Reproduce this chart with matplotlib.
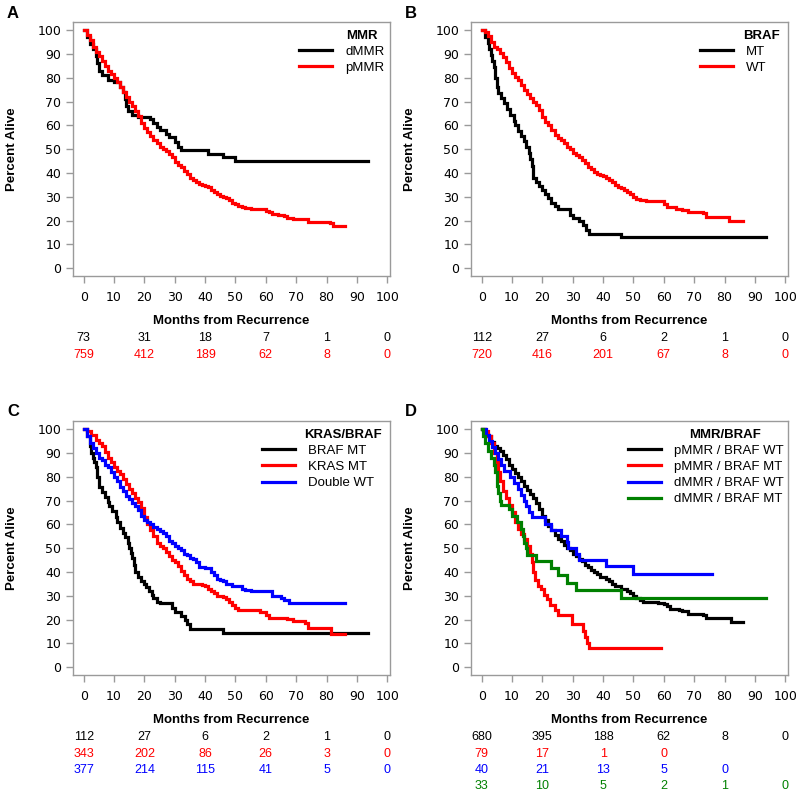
import matplotlib
matplotlib.use('Agg')
import matplotlib.pyplot as plt
import matplotlib.transforms as mtransforms

# Kaplan-Meier steps: (month, percent alive)
a_dmmr = [(0, 100), (1, 97), (2, 94), (3, 92), (4, 89), (4.5, 86), (5, 83), (6, 81), (8, 79),
          (10, 78), (12, 76), (13, 74), (13.5, 71), (14, 68), (14.5, 66), (16, 64.5), (18, 63.5),
          (22, 62.5), (23, 61), (24, 59.5), (25, 58), (27, 56.5), (28, 55), (30, 53), (31, 51),
          (32, 49.5), (41, 48), (46, 46.5), (50, 45), (93.5, 45)]
a_pmmr = [(0, 100), (1, 98), (2, 96), (3, 93), (4, 91), (5, 89), (6, 87), (7, 85), (8, 83),
          (9, 81.5), (10, 80), (11, 78), (12, 76), (13, 74), (14, 72), (15, 70), (16, 68),
          (17, 66), (18, 64), (19, 61), (20, 59), (21, 57), (22, 55.5), (23, 54), (24, 52.5),
          (25, 51), (26, 50), (27, 49), (28, 48), (29, 46.5), (30, 44.5), (31, 43.5), (32, 42.5),
          (33, 41), (34, 39.5), (35, 38), (36, 37), (37, 36), (38, 35.5), (39, 35), (40, 34.5),
          (41, 34), (42, 33), (43, 32), (44, 31), (45, 30.5), (46, 30), (47, 29.5), (48, 28.5),
          (49, 27.5), (50, 27), (51, 26), (52, 25.5), (53, 25.2), (55, 25), (58, 24.8), (60, 24.2),
          (61, 23.5), (62, 22.8), (64, 22.3), (66, 21.8), (67, 21.2), (69, 20.7), (73, 20.5),
          (74, 19.2), (81, 19), (82, 17.5), (86, 17.5)]

b_mt = [(0, 100), (1, 97), (2, 94.5), (2.5, 92), (3, 89.5), (3.5, 87), (4, 84.5), (4.5, 80),
        (5, 76), (5.5, 73.5), (6.5, 71.5), (7.5, 69.5), (8.5, 67), (9.5, 64.5), (10.5, 62),
        (11, 60), (12, 57.5), (13, 55.5), (14, 53.5), (14.5, 51), (15.5, 48.5), (16, 46),
        (16.5, 43), (17, 38), (18, 36), (19, 34.5), (20, 33), (21, 31), (22, 29.5), (23, 27.5),
        (24, 26), (25, 24.8), (29, 22.5), (30, 21), (32, 20), (33.5, 18), (34.5, 16),
        (35.5, 14.5), (46, 13), (93.5, 13)]
b_wt = [(0, 100), (1, 99), (2, 97.5), (3, 95), (4, 93), (5, 92), (6, 90.5), (7, 88.5),
        (8, 86.5), (9, 84), (10, 82), (11, 80.5), (12, 79), (13, 77), (14, 75), (15, 73),
        (16, 71.5), (17, 70), (18, 68.5), (19, 66.5), (20, 63.5), (21, 61.5), (22, 60), (23, 58),
        (24, 56), (25, 54.5), (26, 54), (27, 52.5), (28, 51), (29, 50), (30, 48.5), (31, 47.5),
        (32, 46.5), (33, 45.5), (34, 44), (35, 42.5), (36, 41.5), (37, 40.5), (38, 39.5),
        (39, 39), (40, 38.5), (41, 38), (42, 37), (43, 36), (44, 35), (45, 34), (46, 33.5),
        (47, 33), (48, 32), (49, 31), (50, 30), (51, 29), (52, 28.5), (54, 28.2), (58, 28),
        (60, 27), (61, 25.5), (64, 25), (66, 24.3), (68, 23.5), (73, 23), (74, 21.5),
        (81.5, 20), (86, 20)]

c_braf = [(0, 100), (1, 97), (2, 93), (2.5, 90), (3, 88), (3.5, 86), (4, 84), (4.5, 80),
          (5, 75.5), (6, 73.5), (7, 71.5), (8, 69.5), (8.5, 67.5), (9.5, 65.5), (10.5, 63),
          (11, 61), (12, 58.5), (13, 56.5), (13.5, 54.5), (14.5, 52), (15, 50), (15.5, 48),
          (16, 46), (16.5, 43), (17, 40), (18, 38), (19, 36), (20, 35), (20.5, 33.5), (21.5, 32),
          (22.5, 30.5), (23, 29), (24, 27.5), (25, 27), (29, 25), (30, 23), (32, 21.5),
          (33.5, 20), (34, 18), (35, 16), (46, 14.5), (93.5, 14.5)]
c_kras = [(0, 100), (1, 99), (2.5, 97.5), (4, 95.5), (5, 94), (6, 93), (7, 90.5), (8, 88),
          (9, 86), (10, 84), (11, 82.5), (12, 81), (13, 79), (14, 77), (15, 75), (16, 73),
          (17, 71), (18, 69.5), (19, 67), (20, 63), (21, 60), (22, 57.5), (23, 55), (24, 52),
          (25, 51), (26, 50), (27, 48.5), (28, 46.5), (29, 45), (30, 44), (31, 42.5), (32, 40.5),
          (33, 38.5), (34, 37), (35, 36), (36, 35), (39, 34.5), (40, 34), (41, 33), (42, 32),
          (43, 31), (44, 30), (46, 29.5), (47, 28.5), (48, 27.5), (49, 26), (50, 25), (51, 24),
          (56, 23.8), (58, 23), (60, 22), (61, 20.7), (67, 20.2), (69, 19.5), (73, 18.5),
          (74, 16.5), (81.5, 14), (86, 14)]
c_dwt = [(0, 100), (1, 97), (2, 94), (3, 92), (4, 90), (5, 88), (6, 87), (7, 85), (8, 84),
         (9, 82), (10, 80), (11, 78), (12, 75.5), (13, 74), (14, 72), (15, 70.5), (16, 69),
         (17, 67.5), (18, 66), (19, 63.5), (20, 62), (21, 61), (22, 60), (23, 59), (24, 58),
         (25, 57), (26, 56.5), (27, 55), (28, 53), (29, 52), (30, 51), (31, 50), (32, 49),
         (33, 47.5), (34, 47), (35, 46), (36, 45.5), (37, 44), (38, 42), (40, 41.5), (42, 40),
         (43, 38.5), (44, 37), (45, 36.5), (46, 36), (47, 35), (49, 34), (52, 33), (53, 32.5),
         (55, 32), (61, 31.8), (62, 30), (65, 29), (66, 28), (67.5, 27), (86, 27)]

d_p_wt = [(0, 100), (1, 98), (2, 97), (3, 94.5), (4, 93), (5, 92), (6, 91), (7, 89), (8, 87.5),
          (9, 85), (10, 83.3), (11, 81.5), (12, 79.8), (13, 78), (14, 76), (15, 74.5),
          (16, 72.8), (17, 71), (18, 69), (19, 66.5), (20, 63.5), (21, 62), (22, 59.5),
          (23, 57.5), (24, 55.5), (25, 54), (26, 53), (27, 51.5), (28, 50), (29, 49), (30, 47.5),
          (31, 46.5), (32, 45.5), (33, 44.5), (34, 43), (35, 42), (36, 41), (37, 40), (38, 39),
          (39, 38), (41, 37), (42, 36), (43, 35), (44, 34), (46, 33), (48, 32), (49, 31),
          (50, 30), (51, 29), (52, 28), (53, 27.5), (58, 27), (60, 26.5), (61, 25.5), (62, 24.5),
          (65, 24), (66, 23.5), (68, 22.5), (73, 22), (74, 20.7), (81, 20.5), (82, 19), (86, 19)]
d_p_mt = [(0, 100), (1, 99), (2, 97), (3, 94), (4, 90), (5, 86), (5.5, 82), (6, 78), (7, 74),
          (8, 71), (9, 68), (10, 65), (11, 61), (12, 58), (13, 56), (14, 54), (15, 51),
          (16, 47.5), (16.5, 44), (17, 40), (17.5, 36.5), (18.5, 34), (19.5, 33), (20.5, 30.5),
          (21.5, 28.5), (22.5, 26), (24, 24), (25, 22), (29.7, 18), (33.3, 15), (34, 12.5),
          (34.8, 10), (35.5, 8), (59, 8)]
d_d_wt = [(0, 100), (1.5, 97.5), (2.5, 95), (3.5, 92.5), (4.5, 90), (5.5, 87.5), (6.5, 85),
          (7.5, 82.5), (9.5, 80), (10.5, 77.5), (12, 75), (13, 72.5), (14, 70), (14.5, 67.5),
          (15.5, 65), (16.5, 63), (21, 60), (23, 57.5), (26, 55), (28, 52.5), (28.5, 50),
          (31, 47.5), (32, 45), (41, 42.5), (50, 39), (76, 39)]
d_d_mt = [(0, 100), (0.5, 97), (1, 94), (2, 91), (3, 88), (4, 85), (4.5, 82), (5, 76),
          (5.5, 73), (6, 70), (6.5, 68), (9, 66.5), (10, 63.5), (11.5, 61), (13, 58), (13.5, 55),
          (14, 52), (14.5, 50), (15, 47), (18, 44.5), (23, 41.5), (25, 38.5), (28, 35.5),
          (31, 32.5), (46, 29), (93.5, 29)]

# numbers at risk at 0, 20, 40, 60, 80, 100 months
risk_months = [0, 20, 40, 60, 80, 100]
a_risk = [[73, 31, 18, 7, 1, 0], [759, 412, 189, 62, 8, 0]]
b_risk = [[112, 27, 6, 2, 1, 0], [720, 416, 201, 67, 8, 0]]
c_risk = [[112, 27, 6, 2, 1, 0], [343, 202, 86, 26, 3, 0], [377, 214, 115, 41, 5, 0]]
d_risk = [[680, 395, 188, 62, 8, 0], [79, 17, 1, 0], [40, 21, 13, 5, 0], [33, 10, 5, 2, 1, 0]]

RED = '#ff0000'
BLUE = '#0000ff'
GREEN = '#008000'
GRAY = '#9a9a9a'
SANS = ['Liberation Sans', 'DejaVu Sans']

fig = plt.figure(figsize=(8, 7.95), dpi=100)
W, H = 800, 795


def panel(left, top, letter, title, labels, colors, curves, risk, leg_x, title_x):
    # left/top in pixels of the frame
    ax = fig.add_axes([left / W, 1 - (top + 254) / H, 317 / W, 254 / H])
    lines = []
    for pts, c in zip(curves, colors):
        t, s = zip(*pts)
        ln, = ax.step(t, s, where='post', color=c, lw=2.3, solid_joinstyle='miter')
        lines.append(ln)
    ax.set_xlim(-3.5, 100.9)
    ax.set_ylim(-3.3, 103.4)
    ax.set_xticks(range(0, 101, 10))
    ax.set_yticks(range(0, 101, 10))
    for sp in ax.spines.values():
        sp.set_color(GRAY)
        sp.set_linewidth(1)
    ax.tick_params(direction='out', length=5, width=1, color=GRAY, pad=3.5,
                   labelsize=9, labelcolor='black')
    ax.tick_params(axis='x', pad=5.5)
    ax.set_ylabel('Percent Alive', fontsize=9.5, fontweight='bold', family=SANS)
    ax.yaxis.set_label_coords(-0.192, 0.5)
    ax.yaxis.label.set_va('center')
    ax.set_xlabel('Months from Recurrence', fontsize=9.5, fontweight='bold', family=SANS)
    ax.xaxis.set_label_coords(0.5, -0.177)
    ax.xaxis.label.set_va('center')

    ax.legend(lines, labels, loc='upper left', bbox_to_anchor=(leg_x, 0.907), frameon=False,
              borderpad=0, borderaxespad=0, handlelength=2.5, handletextpad=1.0,
              labelspacing=0.3, prop={'family': SANS, 'size': 9.5})
    ax.text(title_x, 0.945, title, transform=ax.transAxes, ha='center', va='center',
            fontsize=9.5, fontweight='bold', family=SANS)

    trans = mtransforms.blended_transform_factory(ax.transData, ax.transAxes)
    for i, (row, c) in enumerate(zip(risk, colors)):
        for m, n in zip(risk_months, row):
            ax.text(m, -0.246 - 0.064 * i, str(n), transform=trans, ha='center', va='center',
                    color=c, fontsize=9, family=SANS, clip_on=False)

    fig.text((left - 66) / W, 1 - (top - 9) / H, letter, ha='left', va='center',
             fontsize=12, fontweight='bold', family=SANS)
    return ax


panel(73, 22, 'A', 'MMR', ['dMMR', 'pMMR'], ['black', RED], [a_dmmr, a_pmmr], a_risk,
      0.713, 0.912)
panel(471, 22, 'B', 'BRAF', ['MT', 'WT'], ['black', RED], [b_mt, b_wt], b_risk,
      0.722, 0.915)
panel(73, 421, 'C', 'KRAS/BRAF', ['BRAF MT', 'KRAS MT', 'Double WT'], ['black', RED, BLUE],
      [c_braf, c_kras, c_dwt], c_risk, 0.596, 0.852)
panel(471, 421, 'D', 'MMR/BRAF',
      ['pMMR / BRAF WT', 'pMMR / BRAF MT', 'dMMR / BRAF WT', 'dMMR / BRAF MT'],
      ['black', RED, BLUE, GREEN], [d_p_wt, d_p_mt, d_d_wt, d_d_mt], d_risk, 0.495, 0.801)

fig.savefig('out.png', dpi=100)
